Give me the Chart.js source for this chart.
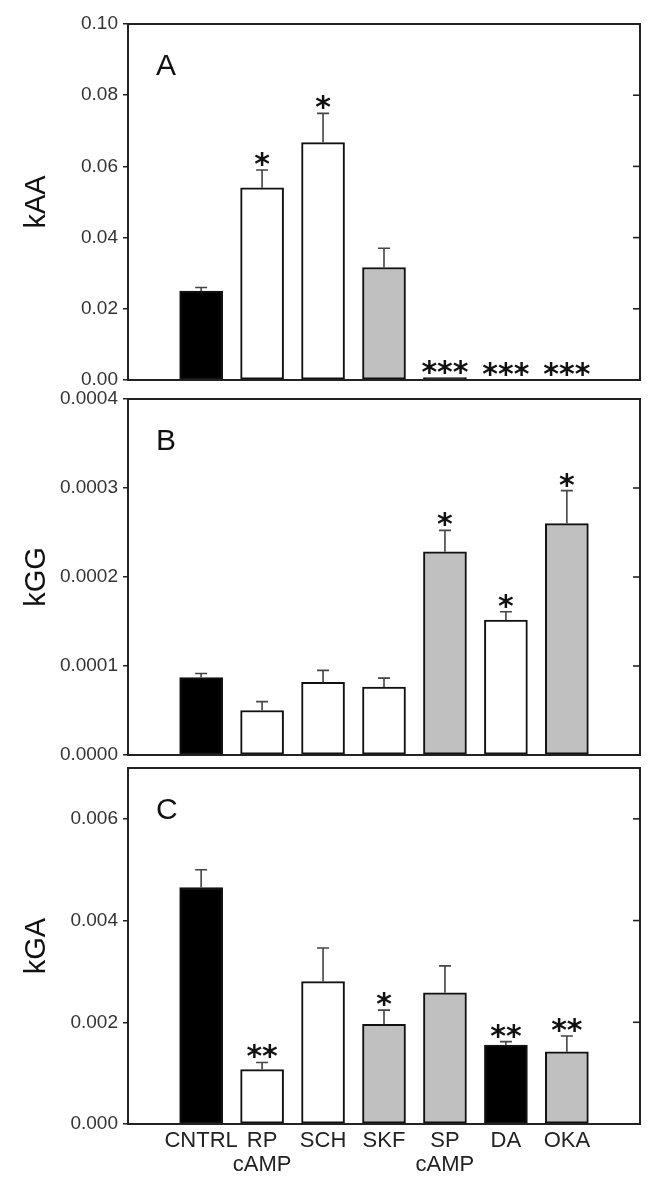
<!DOCTYPE html>
<html>
<head>
<meta charset="utf-8">
<script src="https://cdn.jsdelivr.net/npm/chart.js@4.4.1/dist/chart.umd.min.js"></script>
<style>
  html, body { margin: 0; padding: 0; background: #ffffff; }
  #wrap { position: relative; width: 655px; height: 1189px; }
  canvas { position: absolute; left: 0; top: 0; }
</style>
</head>
<body>
<div id="wrap">
  <canvas id="cA" width="655" height="1189"></canvas>
  <canvas id="cB" width="655" height="1189"></canvas>
  <canvas id="cC" width="655" height="1189"></canvas>
</div>
<script>
// ---------- data ----------
const categories = ['CNTRL', 'RP\ncAMP', 'SCH', 'SKF', 'SP\ncAMP', 'DA', 'OKA'];

const kAA      = [0.025, 0.054, 0.0667, 0.0316, 0.0007, 0.0001, 0.0001];
const kAAErr   = [0.001, 0.005, 0.0082, 0.0054, 0, 0, 0];
const kAASig   = ['', '*', '*', '', '***', '***', '***'];
const kAATicks = [0, 0.02, 0.04, 0.06, 0.08, 0.10];

const kGG      = [0.000087, 0.000050, 0.0000816, 0.0000764, 0.0002284, 0.0001517, 0.00026];
const kGGErr   = [0.0000045, 0.00001, 0.0000135, 0.00001, 0.000024, 0.0000093, 0.000037];
const kGGSig   = ['', '', '', '', '*', '*', '*'];
const kGGTicks = [0, 0.0001, 0.0002, 0.0003, 0.0004];

const kGA      = [0.00465, 0.00107, 0.0028, 0.00196, 0.00258, 0.00155, 0.00142];
const kGAErr   = [0.00035, 0.00014, 0.00066, 0.00028, 0.00053, 0.00007, 0.00031];
const kGASig   = ['', '**', '', '*', '', '**', '**'];
const kGATicks = [0, 0.002, 0.004, 0.006];

// ---------- styles ----------
const K = '#000000', W = '#ffffff', G = '#c0c0c0';
const colorsA = [K, W, W, G, K, W, G];
const colorsB = [K, W, W, W, G, W, G];
const colorsC = [K, W, W, G, G, K, G];
const FONT = "'Liberation Sans', Arial, Helvetica, sans-serif";

function makePanel(id, cfg) {
  const decor = {
    id: 'decor_' + id,
    afterDatasetsDraw(chart) {
      const ctx = chart.ctx, a = chart.chartArea;
      const xs = chart.scales.x, ys = chart.scales.y;
      ctx.save();
      // error bars + significance
      cfg.values.forEach((v, i) => {
        const e = cfg.errors[i];
        const px = xs.getPixelForValue(i);
        const yTop = ys.getPixelForValue(v);
        const yErr = ys.getPixelForValue(v + e);
        if (e > 0) {
          ctx.strokeStyle = '#444';
          ctx.lineWidth = 1.6;
          ctx.beginPath();
          ctx.moveTo(px, yTop);
          ctx.lineTo(px, yErr);
          ctx.moveTo(px - 6, yErr);
          ctx.lineTo(px + 6, yErr);
          ctx.stroke();
        }
        if (cfg.sig[i]) {
          ctx.fillStyle = '#111';
          ctx.font = "bold 30px 'DejaVu Sans', sans-serif";
          ctx.textAlign = 'center';
          ctx.textBaseline = 'alphabetic';
          ctx.fillText(cfg.sig[i], px, Math.min(yErr, yTop) + 4);
        }
      });
      // frame
      ctx.strokeStyle = '#222';
      ctx.lineWidth = 2;
      ctx.strokeRect(a.left, a.top, a.right - a.left, a.bottom - a.top);
      // inward ticks on right border
      ctx.lineWidth = 1.6;
      cfg.ticks.forEach(t => {
        const py = ys.getPixelForValue(t);
        ctx.beginPath();
        ctx.moveTo(a.right - 7, py);
        ctx.lineTo(a.right, py);
        ctx.stroke();
      });
      // panel letter
      ctx.fillStyle = '#111';
      ctx.font = '30px ' + FONT;
      ctx.textAlign = 'left';
      ctx.textBaseline = 'alphabetic';
      ctx.fillText(cfg.letter, a.left + 28, a.top + 51);
      // y title
      ctx.save();
      ctx.translate(45, (a.top + a.bottom) / 2);
      ctx.rotate(-Math.PI / 2);
      ctx.textAlign = 'center';
      ctx.font = '29px ' + FONT;
      ctx.fillText(cfg.title, 0, 0);
      ctx.restore();
      ctx.restore();
    }
  };

  return new Chart(document.getElementById(id), {
    type: 'bar',
    data: {
      datasets: [{
        data: cfg.values.map((v, i) => ({ x: i, y: v })),
        backgroundColor: cfg.colors,
        borderColor: '#111',
        borderWidth: 2,
        borderSkipped: false,
        barThickness: 43
      }]
    },
    options: {
      responsive: false,
      animation: false,
      devicePixelRatio: 1,
      events: [],
      layout: { padding: { left: 0, right: 15, top: cfg.padTop, bottom: cfg.padBottom } },
      plugins: { legend: { display: false }, tooltip: { enabled: false } },
      scales: {
        x: {
          type: 'linear',
          min: -1.2,
          max: 7.2,
          offset: false,
          border: { display: false },
          grid: { display: false, drawTicks: false, offset: false },
          afterBuildTicks: s => { s.ticks = categories.map((c, i) => ({ value: i })); },
          afterFit: s => { s.height = cfg.xHeight; },
          ticks: {
            display: cfg.showX,
            autoSkip: false,
            maxRotation: 0,
            padding: 5,
            color: '#222',
            font: { family: FONT, size: 22, lineHeight: 1.08 },
            callback: (value, index) => categories[index] ? categories[index].split('\n') : ''
          }
        },
        y: {
          min: 0,
          max: cfg.yMax,
          border: { display: false },
          grid: { display: true, drawOnChartArea: false, drawTicks: true, tickLength: 5, color: '#222', lineWidth: 1.5 },
          afterBuildTicks: s => { s.ticks = cfg.ticks.map(v => ({ value: v })); },
          afterFit: s => { s.width = 128; },
          ticks: {
            padding: 5,
            color: '#333',
            font: { family: FONT, size: 19 },
            callback: v => Number(v).toFixed(cfg.decimals)
          }
        }
      }
    },
    plugins: [decor]
  });
}

makePanel('cA', { values: kAA, errors: kAAErr, sig: kAASig, colors: colorsA, ticks: kAATicks,
  yMax: 0.10, decimals: 2, title: 'kAA', letter: 'A', padTop: 24, padBottom: 809, xHeight: 0, showX: false });
makePanel('cB', { values: kGG, errors: kGGErr, sig: kGGSig, colors: colorsB, ticks: kGGTicks,
  yMax: 0.0004, decimals: 4, title: 'kGG', letter: 'B', padTop: 399, padBottom: 434, xHeight: 0, showX: false });
makePanel('cC', { values: kGA, errors: kGAErr, sig: kGASig, colors: colorsC, ticks: kGATicks,
  yMax: 0.007, decimals: 3, title: 'kGA', letter: 'C', padTop: 768, padBottom: 0, xHeight: 65, showX: true });
</script>
</body>
</html>
